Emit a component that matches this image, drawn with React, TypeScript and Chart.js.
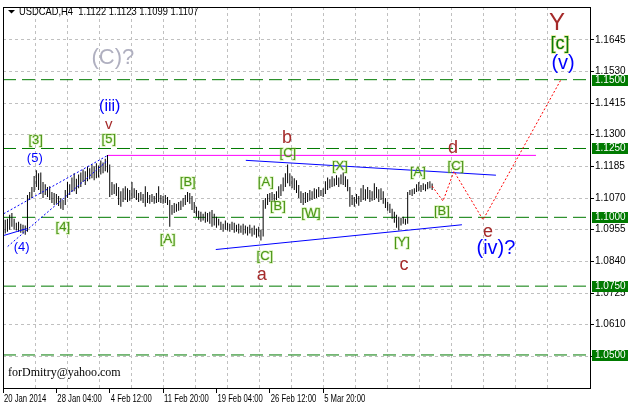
import React, { useEffect, useRef } from 'react';
import { Chart, registerables } from 'chart.js';
Chart.register(...registerables);

// ---- data ----
const symbolTitle = 'USDCAD,H4';
const lastOHLC = [1.1122, 1.1123, 1.1099, 1.1107];

const highs = [
  1.0984,1.0991,1.0995,1.1009,1.1016,1.0995,1.0980,1.0984,1.0977,1.0973,
  1.0970,1.1081,1.1092,1.1110,1.1150,1.1171,1.1160,1.1163,1.1128,1.1120,
  1.1110,1.1113,1.1092,1.1088,1.1085,1.1077,1.1070,1.1063,1.1099,1.1128,
  1.1120,1.1145,1.1160,1.1140,1.1156,1.1163,1.1174,1.1167,1.1185,1.1178,
  1.1192,1.1185,1.1196,1.1188,1.1206,1.1199,1.1213,1.1226,1.1192,1.1128,
  1.1120,1.1124,1.1110,1.1095,1.1106,1.1113,1.1106,1.1099,1.1128,1.1106,
  1.1099,1.1088,1.1092,1.1085,1.1113,1.1092,1.1081,1.1085,1.1077,1.1088,
  1.1113,1.1081,1.1077,1.1081,1.1074,1.1063,1.1045,1.1052,1.1049,1.1056,
  1.1060,1.1070,1.1081,1.1092,1.1088,1.1077,1.1056,1.1038,1.1024,1.1020,
  1.1013,1.1020,1.1016,1.1020,1.1027,1.1013,1.1002,1.0995,1.0984,1.0977,
  1.0988,1.0980,1.0977,1.0984,1.0980,1.0973,1.0977,1.0970,1.0977,1.0970,
  1.0966,1.0973,1.0962,1.0970,1.0959,1.0966,1.0955,1.1063,1.1070,1.1085,
  1.1088,1.1092,1.1085,1.1095,1.1113,1.1120,1.1145,1.1160,1.1192,1.1160,
  1.1149,1.1142,1.1135,1.1117,1.1095,1.1088,1.1092,1.1088,1.1099,1.1095,
  1.1106,1.1102,1.1110,1.1099,1.1106,1.1131,1.1145,1.1138,1.1149,1.1142,
  1.1153,1.1145,1.1156,1.1163,1.1149,1.1138,1.1110,1.1081,1.1074,1.1085,
  1.1077,1.1106,1.1117,1.1102,1.1110,1.1099,1.1095,1.1124,1.1110,1.1102,
  1.1106,1.1095,1.1070,1.1056,1.1049,1.1031,1.1020,1.1009,1.1002,1.0998,
  1.1002,1.0995,1.1092,1.1099,1.1102,1.1106,1.1120,1.1128,1.1117,1.1124,
  1.1120,1.1128,1.1131,1.1123,
];
const lows = [
  1.0934,1.0941,1.0948,1.0955,1.0966,1.0955,1.0952,1.0948,1.0944,1.0941,
  1.0937,1.0948,1.1063,1.1070,1.1092,1.1110,1.1099,1.1085,1.1070,1.1081,
  1.1074,1.1063,1.1052,1.1045,1.1049,1.1041,1.1031,1.1027,1.1045,1.1070,
  1.1081,1.1092,1.1095,1.1085,1.1106,1.1110,1.1128,1.1117,1.1131,1.1138,
  1.1142,1.1135,1.1142,1.1145,1.1156,1.1160,1.1167,1.1163,1.1074,1.1081,
  1.1085,1.1077,1.1045,1.1038,1.1056,1.1063,1.1056,1.1060,1.1067,1.1070,
  1.1063,1.1056,1.1060,1.1052,1.1038,1.1052,1.1049,1.1056,1.1049,1.1052,
  1.1056,1.1052,1.1049,1.1052,1.1045,1.0966,1.1009,1.1016,1.1020,1.1024,
  1.1027,1.1038,1.1045,1.1056,1.1049,1.1027,1.1016,1.1002,1.0991,1.0984,
  1.0988,1.0980,1.0984,1.0977,1.0966,1.0970,1.0962,1.0970,1.0955,1.0948,
  1.0955,1.0952,1.0948,1.0955,1.0944,1.0948,1.0941,1.0944,1.0937,1.0941,
  1.0934,1.0941,1.0930,1.0937,1.0926,1.0930,1.0916,1.0930,1.1031,1.1045,
  1.1056,1.1060,1.1056,1.1063,1.1070,1.1077,1.1095,1.1110,1.1124,1.1113,
  1.1106,1.1099,1.1088,1.1070,1.1052,1.1045,1.1052,1.1056,1.1060,1.1063,
  1.1067,1.1070,1.1074,1.1077,1.1074,1.1085,1.1099,1.1106,1.1110,1.1113,
  1.1117,1.1110,1.1120,1.1117,1.1110,1.1095,1.1038,1.1045,1.1038,1.1049,
  1.1042,1.1056,1.1063,1.1060,1.1067,1.1056,1.1060,1.1063,1.1070,1.1056,
  1.1063,1.1049,1.1034,1.1024,1.1016,1.0995,1.0980,1.0962,1.0952,1.0970,
  1.0977,1.0973,1.0977,1.1081,1.1077,1.1085,1.1092,1.1095,1.1092,1.1099,
  1.1095,1.1102,1.1106,1.1099,
];

// time axis (bar index) and its labels
const xTickIdx = [0, 24, 48, 72, 96, 120, 144];
const xTickLabels = ['20 Jan 2014', '28 Jan 04:00', '4 Feb 12:00', '11 Feb 20:00', '19 Feb 04:00', '26 Feb 12:00', '5 Mar 20:00'];
const xRange = [0, 264];
const yRange = [1.0380, 1.1764];
const yTicks = [1.0495, 1.0610, 1.0725, 1.0840, 1.0955, 1.1070, 1.1185, 1.1300, 1.1415, 1.1530, 1.1645];

// horizontal levels
const levels = [1.1500, 1.1250, 1.1000, 1.0750, 1.0500];
const magentaLevel = 1.1225;
const magentaFromTo = [47.1, 239.7];

// trend lines (bar index, price)
const triUpperX = [109.2, 221.7];
const triUpperY = [1.1207, 1.1153];
const triLowerX = [95.7, 206.4];
const triLowerY = [1.0883, 1.0973];
const wedgeUpperX = [0.3, 47.1];
const wedgeUpperY = [1.1013, 1.1225];
const wedgeLowerX = [2.1, 47.1];
const wedgeLowerY = [1.0894, 1.1207];
const baseLineX = [0.3, 10.7];
const baseLineY = [1.0934, 1.0959];
const projX = [193, 197.9, 202.8, 215.9, 251];
const projY = [1.1113, 1.1059, 1.1167, 1.0991, 1.1501];

// wave labels (text, bar index, price)
const bracketLabels = [
  { t: '[3]', x: 14.7, y: 1.1278 }, { t: '[4]', x: 26.9, y: 1.0962 }, { t: '[5]', x: 47.6, y: 1.1282 },
  { t: '[A]', x: 74.1, y: 1.0919 }, { t: '[B]', x: 83.1, y: 1.1128 }, { t: '[C]', x: 117.8, y: 1.0858 },
  { t: '[A]', x: 118.2, y: 1.1128 }, { t: '[B]', x: 123.6, y: 1.1038 }, { t: '[C]', x: 128.1, y: 1.1232 },
  { t: '[W]', x: 138.5, y: 1.1013 }, { t: '[X]', x: 151.5, y: 1.1185 }, { t: '[Y]', x: 179.4, y: 1.0908 },
  { t: '[A]', x: 186.6, y: 1.1163 }, { t: '[B]', x: 197.4, y: 1.1023 }, { t: '[C]', x: 203.7, y: 1.1185 },
];
const letterLabels = [
  { t: 'a', x: 116.4, y: 1.0790 }, { t: 'b', x: 127.7, y: 1.1289 }, { t: 'c', x: 180.3, y: 1.0826 },
  { t: 'd', x: 202.4, y: 1.1253 }, { t: 'e', x: 218.1, y: 1.0948 },
];
const blueSmall = [{ t: '(5)', x: 14.3, y: 1.1214 }, { t: '(4)', x: 8.4, y: 1.0890 }];
const blueMid = [{ t: '(iii)', x: 48.0, y: 1.1401 }];
const blueBig = [{ t: '(iv)?', x: 221.7, y: 1.0887 }, { t: '(v)', x: 251.9, y: 1.1559 }];
const grayLabels = [{ t: '(C)?', x: 49.4, y: 1.1580 }];
const brownSmall = [{ t: 'v', x: 47.6, y: 1.1336 }];
const brownBig = [{ t: 'Y', x: 249.2, y: 1.1703 }];
const greenBig = [{ t: '[c]', x: 250.5, y: 1.1631 }];
const footerText = 'forDmitry@yahoo.com';

// ---- styles ----
const AXIS_FONT = "'Liberation Sans', Arial, sans-serif";
const WAVE_FONT = "'Liberation Sans', Arial, sans-serif";
const LEVEL_GREEN = '#007a00';
const BROWN = '#a52a2a';
const BLUE = '#0000ff';

const pts = (xs: number[], ys: number[]) => xs.map((x, i) => ({ x, y: ys[i] }));

const lineDs = (data: any[], color: string, dash: number[] = [], order = 1) => ({
  type: 'line' as const,
  data,
  borderColor: color,
  borderWidth: 1,
  borderDash: dash,
  pointRadius: 0,
  tension: 0,
  fill: false,
  xAxisID: 'x',
  yAxisID: 'y',
  order,
});

const overlay = {
  id: 'overlay',
  afterDatasetsDraw(chart: any) {
    const { ctx, scales } = chart;
    const xs = scales.x, ys = scales.y;
    const draw = (items: any[], size: number, color: string, halo?: string) => {
      ctx.font = `${size}px ${WAVE_FONT}`;
      ctx.textAlign = 'center';
      ctx.textBaseline = 'middle';
      for (const it of items) {
        const px = xs.getPixelForValue(it.x);
        const py = ys.getPixelForValue(it.y);
        if (halo) {
          ctx.lineWidth = 1.5;
          ctx.strokeStyle = halo;
          ctx.setLineDash([]);
          ctx.strokeText(it.t, px, py);
        }
        ctx.fillStyle = color;
        ctx.fillText(it.t, px, py);
      }
    };
    ctx.save();
    draw(grayLabels, 22, '#b0b0c0');
    draw(bracketLabels, 13, '#4a9418', 'rgba(150,220,60,0.35)');
    draw(letterLabels, 18, BROWN);
    draw(blueSmall, 13, BLUE);
    draw(blueMid, 16, BLUE);
    draw(blueBig, 20, BLUE);
    draw(brownSmall, 15, BROWN);
    draw(brownBig, 24, BROWN);
    draw(greenBig, 18, '#0a7a0a', 'rgba(200,200,0,0.4)');
    ctx.restore();
  },
  afterDraw(chart: any) {
    const { ctx, chartArea: a, scales } = chart;
    const ys = scales.y;
    const xl = scales.xl;
    ctx.save();
    ctx.setLineDash([]);
    // frame
    ctx.strokeStyle = '#000';
    ctx.lineWidth = 1;
    const l = Math.round(a.left), t = Math.round(a.top), r = Math.round(a.right), b = Math.round(a.bottom);
    ctx.strokeRect(l + 0.5, t + 0.5, r - l, b - t);
    // time labels (narrow, left aligned at their tick)
    ctx.fillStyle = '#000';
    ctx.font = `11px ${AXIS_FONT}`;
    ctx.textAlign = 'left';
    ctx.textBaseline = 'top';
    xTickIdx.forEach((v, i) => {
      const px = xl.getPixelForValue(v);
      ctx.save();
      ctx.translate(px + 1, b + 5);
      ctx.scale(0.7, 1);
      ctx.fillText(xTickLabels[i], 0, 0);
      ctx.restore();
    });
    // level labels
    ctx.font = `10px ${AXIS_FONT}`;
    ctx.textBaseline = 'middle';
    for (const lv of levels) {
      const py = Math.round(ys.getPixelForValue(lv));
      ctx.fillStyle = LEVEL_GREEN;
      ctx.fillRect(r + 2, py - 5, 628 - r - 2, 11);
      ctx.fillStyle = '#fff';
      ctx.fillText(lv.toFixed(4), r + 5, py + 0.5);
    }
    // title
    ctx.fillStyle = '#000';
    ctx.beginPath();
    ctx.moveTo(8, 10);
    ctx.lineTo(15, 10);
    ctx.lineTo(11.5, 13.5);
    ctx.closePath();
    ctx.fill();
    ctx.save();
    ctx.font = `11px ${WAVE_FONT}`;
    ctx.textBaseline = 'alphabetic';
    ctx.translate(19, 14.5);
    ctx.scale(0.85, 1);
    ctx.fillText(`${symbolTitle}  ${lastOHLC.map((v) => v.toFixed(4)).join(' ')}`, 0, 0);
    ctx.restore();
    // footer
    ctx.font = `12px 'Liberation Serif', 'Times New Roman', serif`;
    ctx.textBaseline = 'alphabetic';
    ctx.fillText(footerText, 8, 376);
    ctx.restore();
  },
};

export default function App() {
  const ref = useRef<HTMLCanvasElement | null>(null);
  useEffect(() => {
    if (!ref.current) return;
    const bars = highs.map((h, i) => ({ x: i, y: [lows[i], h] }));
    const chart = new Chart(ref.current, {
      type: 'bar',
      data: {
        datasets: [
          lineDs(pts(projX, projY), '#ff0000', [2, 2], 1),
          lineDs(pts(triUpperX, triUpperY), BLUE, [], 1),
          lineDs(pts(triLowerX, triLowerY), BLUE, [], 1),
          lineDs(pts(wedgeUpperX, wedgeUpperY), BLUE, [2, 2], 1),
          lineDs(pts(wedgeLowerX, wedgeLowerY), BLUE, [2, 2], 1),
          lineDs(pts(baseLineX, baseLineY), BLUE, [], 1),
          {
            type: 'bar' as const,
            data: bars as any,
            backgroundColor: '#000',
            borderWidth: 0,
            barThickness: 1,
            inflateAmount: 0,
            grouped: false,
            xAxisID: 'x',
            yAxisID: 'y',
            order: 5,
          },
          lineDs(pts(magentaFromTo, [magentaLevel, magentaLevel]), '#ff00ff', [], 8),
          ...levels.map((lv) => lineDs(pts(xRange, [lv, lv]), LEVEL_GREEN, [13, 6], 9)),
        ] as any,
      },
      options: {
        responsive: false,
        devicePixelRatio: 1,
        animation: false,
        events: [],
        layout: { padding: { left: 3, top: 3, right: 0, bottom: 0 } },
        plugins: { legend: { display: false }, tooltip: { enabled: false } },
        scales: {
          x: {
            type: 'linear',
            position: 'bottom',
            offset: false,
            min: xRange[0],
            max: xRange[1],
            ticks: { display: false, stepSize: 14.4 },
            grid: { color: '#c0c0c0', drawTicks: false, offset: false },
            border: { display: false, dash: [3, 3] },
            afterFit: (s: any) => { s.height = 0; },
          },
          xl: {
            type: 'linear',
            position: 'bottom',
            offset: false,
            min: xRange[0],
            max: xRange[1],
            afterBuildTicks: (s: any) => { s.ticks = xTickIdx.map((v) => ({ value: v })); },
            ticks: {
              autoSkip: false,
              maxRotation: 0,
              padding: 0,
              callback: () => '',
            },
            grid: { drawOnChartArea: false, drawTicks: true, tickLength: 5, tickColor: '#000', offset: false },
            border: { display: false },
            afterFit: (s: any) => { s.height = 19; },
          },
          y: {
            type: 'linear',
            position: 'right',
            min: yRange[0],
            max: yRange[1],
            afterBuildTicks: (s: any) => { s.ticks = yTicks.map((v) => ({ value: v })); },
            ticks: {
              autoSkip: false,
              padding: 1,
              color: '#000',
              font: { family: AXIS_FONT, size: 10 },
              callback: (v: any) => Number(v).toFixed(4),
            },
            grid: { color: '#c0c0c0', tickColor: '#000', tickLength: 4 },
            border: { display: false, dash: [3, 3] },
            afterFit: (s: any) => { s.width = 38; },
          },
        },
      } as any,
      plugins: [overlay],
    });
    return () => chart.destroy();
  }, []);
  return (
    <div style={{ position: 'fixed', left: 0, top: 0, width: 628, height: 407, background: '#fff' }}>
      <canvas ref={ref} width={628} height={407} style={{ display: 'block' }} />
    </div>
  );
}
